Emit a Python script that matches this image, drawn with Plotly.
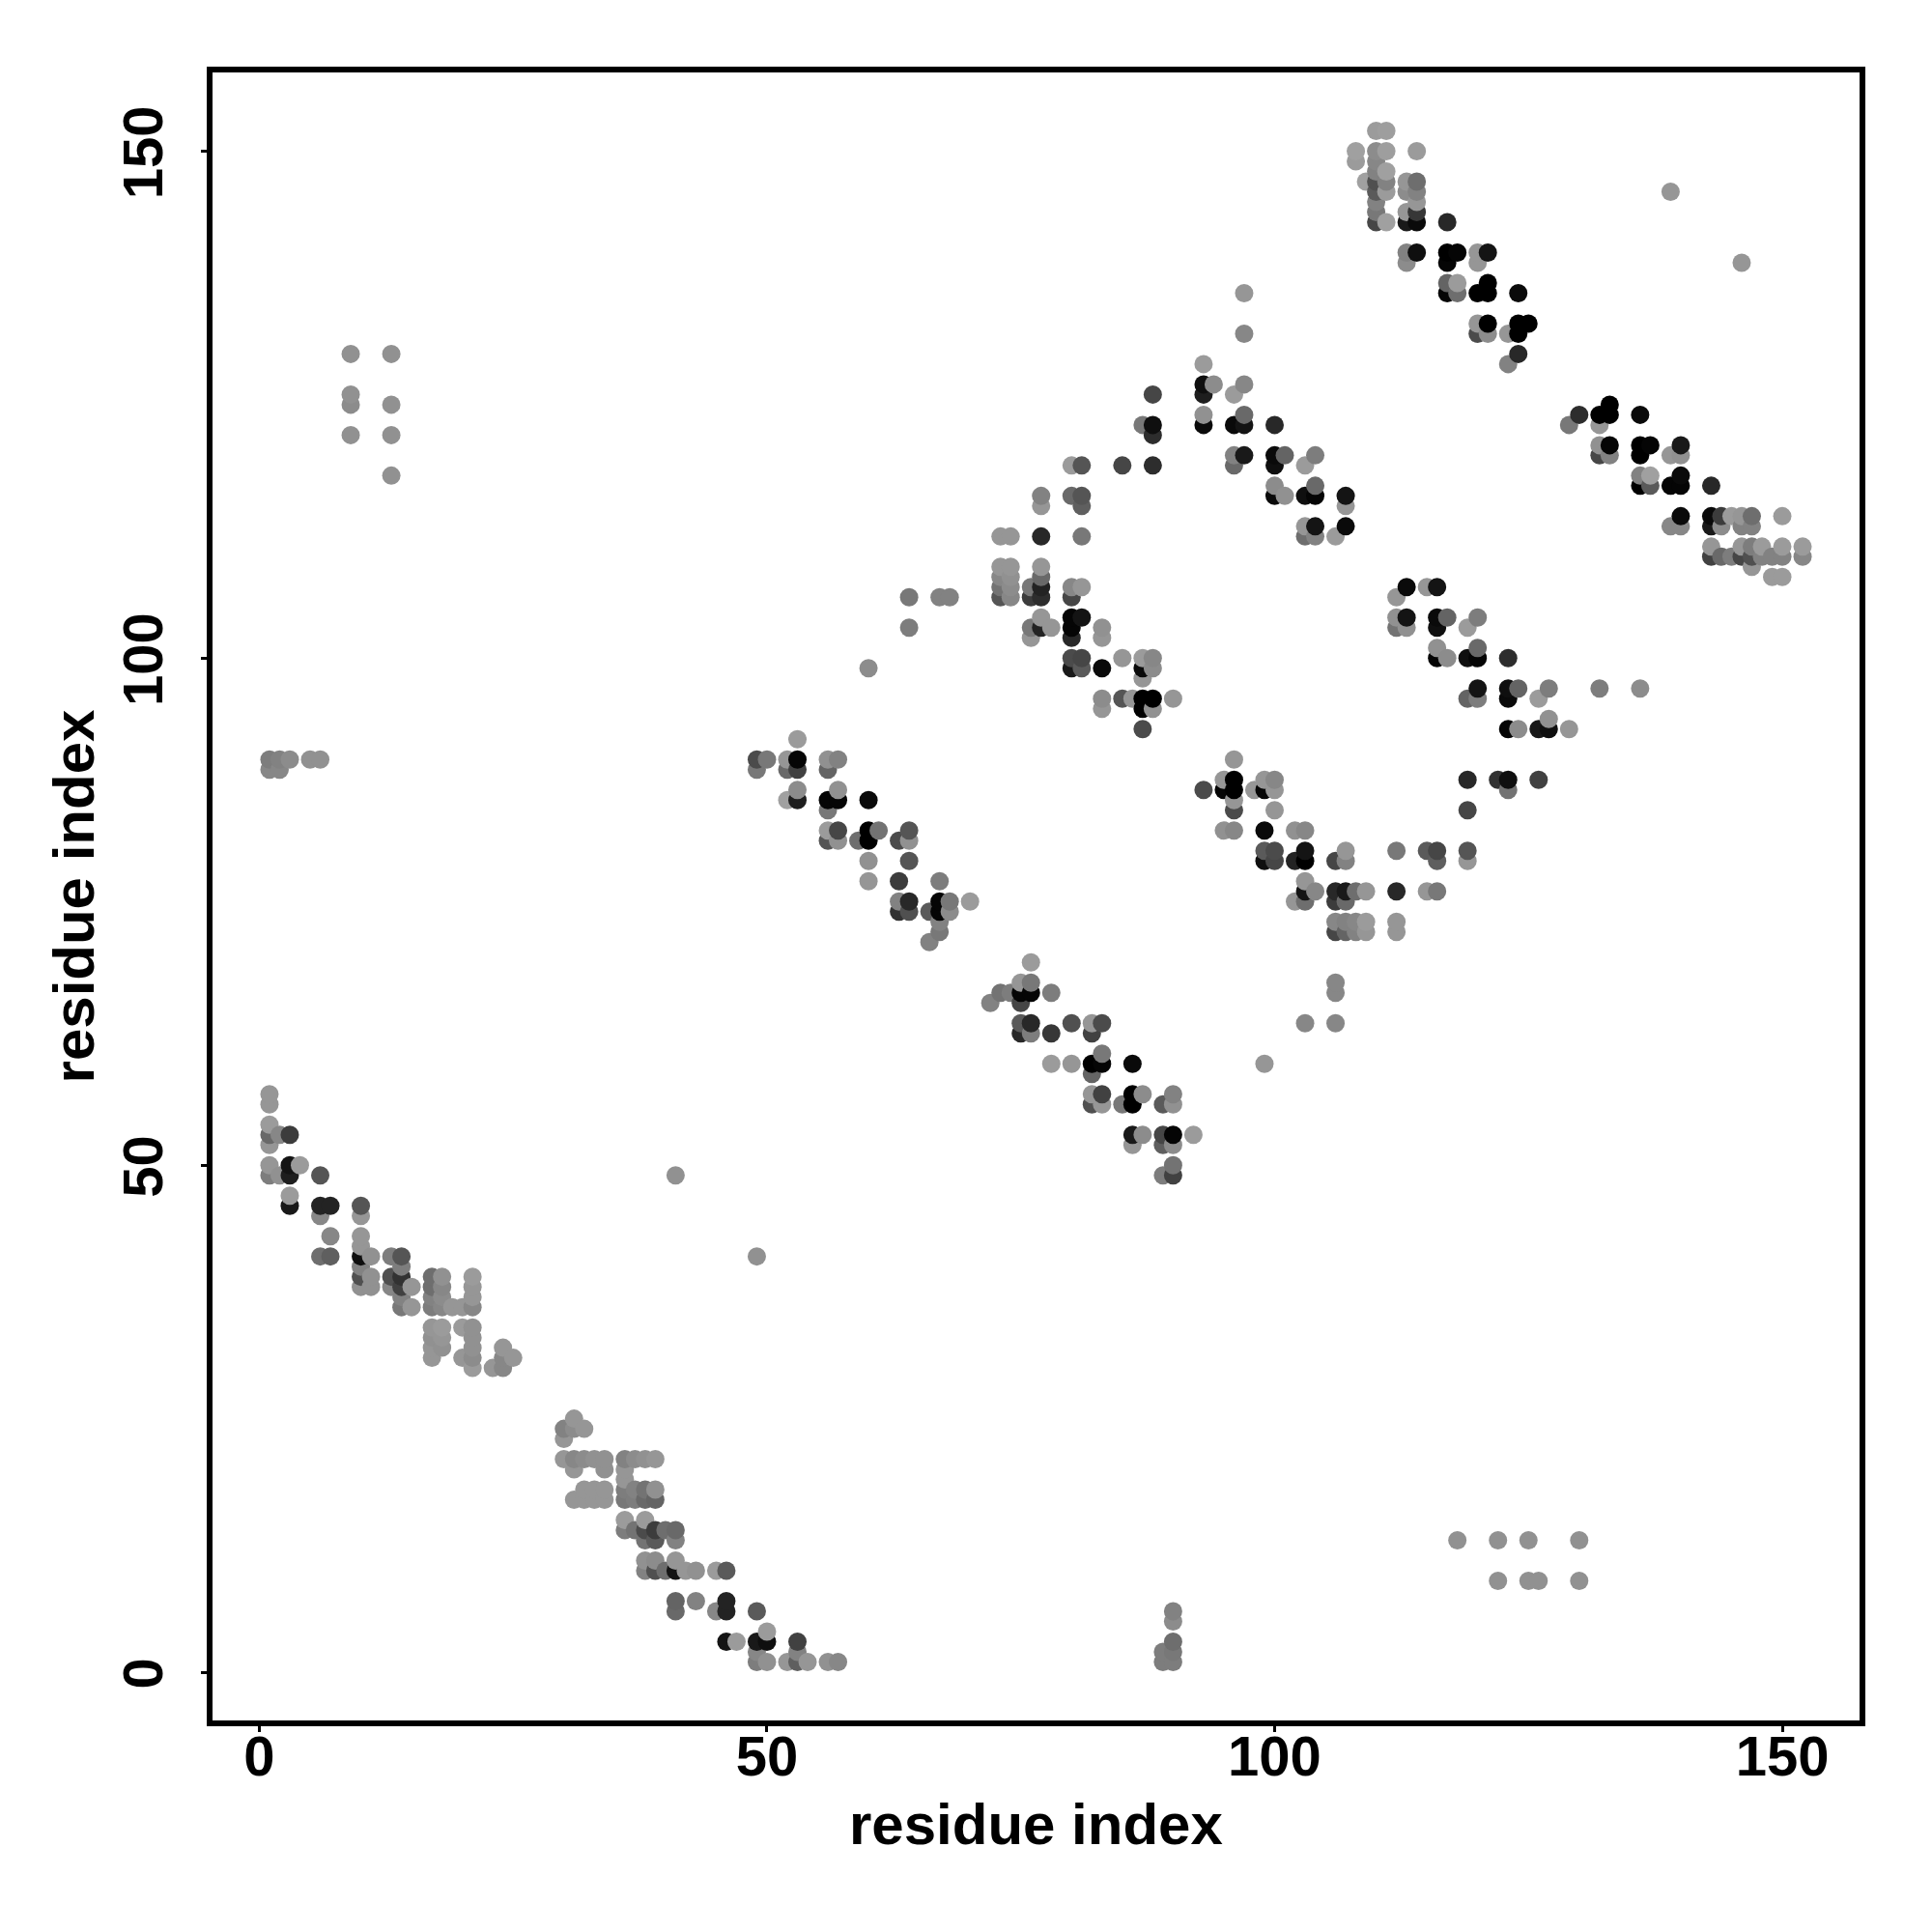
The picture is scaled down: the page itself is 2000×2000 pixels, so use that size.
import plotly.graph_objects as go

# (residue i, residue j, grey level 0-255)
contacts_a = [(1,57,150),(1,56,150),(1,54,155),(1,53,105),(1,52,150),(2,53,135),(3,53,60),
 (1,50,150),(1,49,125),(2,49,145),(3,50,20),(3,49,30),(4,50,155),(6,49,85),(3,47,155),(3,46,25),
 (6,46,35),(6,45,135),(7,46,35),(10,46,85),(10,45,150),(7,43,135),(6,41,110),(7,41,95),
 (10,43,150),(10,42,150),(10,41,15),(10,40,130),(10,39,80),(10,38,145),(11,41,145),(11,39,145),(11,38,145),
 (13,41,125),(14,41,85),(14,40,125),(13,39,80),(13,38,135),(14,39,50),(14,38,65),(14,37,130),(14,36,120),(15,38,150),(15,36,150),
 (17,39,110),(17,38,110),(17,37,130),(17,36,125),(18,39,145),(18,38,135),(18,37,140),(18,36,135),(19,36,150),(20,36,150),
 (21,39,155),(21,38,150),(21,37,150),(21,36,135),
 (17,34,150),(18,34,155),(17,33,145),(18,33,150),(17,32,150),(18,32,145),(17,31,150),
 (20,34,155),(21,34,145),(21,33,145),(21,32,145),(21,31,140),(20,31,150),(21,30,155),
 (23,30,150),(24,32,150),(24,31,135),(24,30,135),(25,31,150)]

contacts_b = [(30,24,130),(30,23,150),(31,25,150),(31,24,140),(32,24,150),
 (30,21,150),(31,21,135),(32,21,140),(33,21,145),(34,21,145),(31,20,150),(34,20,145),
 (32,18,150),(33,18,150),(34,18,150),(31,17,150),(32,17,150),(33,17,150),(34,17,150),
 (36,21,130),(36,20,150),(36,19,150),(36,18,125),(36,17,120),(37,21,140),(37,18,130),(37,17,125),
 (38,21,145),(38,18,115),(38,17,105),(39,21,150),(39,18,145),(39,17,100),
 (36,15,155),(36,14,125),(37,14,115),(38,15,155),(38,14,75),(38,13,115),(39,14,60),(39,13,90),(40,14,110),(41,14,105),(41,13,130),
 (38,11,145),(38,10,130),(39,11,140),(39,10,80),(40,10,110),(41,11,150),(41,10,20),(42,10,150),(43,10,145),
 (45,10,155),(46,10,90),(41,7,100),(41,6,105),(43,7,130),(45,6,135),(46,7,35),(46,6,35),(49,6,90),
 (46,3,20),(47,3,155),(49,3,25),(50,4,155),(50,3,15),(49,2,135),(49,1,125),(50,1,145),
 (53,3,65),(53,2,130),(53,1,95),(52,1,150),(54,1,150),(56,1,145),(57,1,135)]

contacts_c = [(53,92,155),(49,90,75),(49,89,120),(50,90,120),(52,90,150),(52,89,105),(53,90,5),(53,89,65),
 (56,90,145),(56,89,100),(57,90,130),(52,86,160),(53,87,140),(53,86,30),
 (56,86,5),(56,85,120),(57,87,145),(57,86,5),(60,86,10),
 (56,83,155),(56,82,85),(57,83,70),(57,82,145),(59,82,110),(60,83,0),(60,82,0),(61,83,115),
 (63,82,75),(64,83,85),(64,82,145),(60,80,145),(60,78,150),(64,80,85),(63,78,60),(67,78,125),
 (63,76,130),(63,75,50),(64,76,40),(64,75,80),(66,75,90),(67,76,5),(67,75,5),(68,76,120),(68,75,140),
 (67,74,130),(67,73,120),(66,72,130),(70,76,155)]

contacts_d = [(76,70,155),(72,66,130),(73,67,115),(74,67,125),(75,68,150),(75,67,5),(75,66,70),(76,68,120),(76,67,5),(78,67,125),
 (75,64,90),(75,63,40),(76,64,40),(76,63,125),(78,63,55),(80,64,80),(82,64,150),(82,63,65),(83,64,75),
 (78,60,155),(80,60,150),(82,60,0),(82,59,100),(83,61,120),(83,60,5),(86,60,10),
 (82,57,150),(82,56,80),(83,57,65),(83,56,150),(85,56,120),(86,57,0),(86,56,0),(87,57,140),
 (89,56,90),(90,57,130),(90,56,145),(86,53,25),(86,52,150),(87,53,140),(89,53,70),(89,52,95),(90,53,5),(90,52,140),(92,53,155),
 (89,49,125),(90,50,115),(90,49,65)]

contacts_e = [(93,87,75),(95,88,150),(95,87,5),(96,90,150),(96,88,0),(96,87,0),(96,86,150),(96,85,75),
 (98,87,150),(99,88,150),(99,87,5),(100,88,135),(100,87,150),(100,85,150),
 (95,83,145),(96,83,135),(99,83,10),(102,83,145),(103,83,135),
 (99,81,90),(100,81,75),(99,80,15),(100,80,70),(102,80,35),(103,81,20),(103,80,0),
 (106,80,70),(107,81,150),(107,80,130),(103,78,150),(102,76,150),(103,77,20),(103,76,110),(104,77,135),
 (106,77,40),(106,76,60),(107,77,25),(107,76,105),(108,77,110),(109,77,150),
 (112,77,40),(115,77,150),(116,77,120),
 (106,74,135),(107,74,130),(108,74,135),(109,74,155),(106,73,70),(107,73,100),(108,73,130),(109,73,150),(112,74,150),(112,73,150),
 (112,81,120),(115,81,90),(116,81,70),(116,80,95),(119,81,85),(119,80,150),
 (119,88,40),(119,85,70),(122,88,50),(123,88,15),(123,87,115),(126,88,65)]

contacts_f = [(112,106,150),(113,107,10),(115,107,150),(116,107,20),
 (112,104,145),(112,103,115),(113,104,20),(113,103,145),(116,104,10),(116,103,15),(117,104,100),
 (119,103,155),(120,104,125),(116,101,145),(116,100,5),(117,100,140),
 (119,100,15),(120,101,105),(120,100,5),(123,100,45),
 (119,96,100),(120,97,20),(120,96,125),(123,97,15),(123,96,10),(124,97,100),
 (126,96,155),(127,97,125),(132,97,125),(136,97,140),
 (123,93,5),(124,93,140),(126,93,25),(127,94,145),(127,93,15),(129,93,150)]

contacts_g = [(60,99,140),(64,106,120),(64,103,125),(67,106,130),(68,106,130),
 (73,112,150),(74,112,150),(77,112,40),(81,112,120),
 (73,109,150),(74,109,150),(77,109,150),(73,108,135),(74,108,145),(73,107,115),(74,107,140),(73,106,85),(74,106,135),
 (77,108,105),(76,107,120),(77,107,35),(76,106,60),(77,106,45),
 (80,107,135),(80,106,70),(81,107,150),(77,104,150),(76,103,120),(76,102,150),(77,103,35),(78,103,150),
 (80,104,5),(81,104,20),(80,103,5),(80,102,40),(83,103,145),(83,102,150),
 (80,100,75),(81,100,70),(80,99,25),(81,99,90),(83,99,10),(85,100,150),(87,100,155),(88,100,135),(87,99,10),(88,99,140),(87,98,150),
 (83,96,140),(83,95,150),(85,96,85),(86,96,150),(87,96,0),(88,96,0),(87,95,0),(88,95,145),(90,96,150),(87,93,75),
 (77,116,130),(77,115,150),(80,116,105),(81,116,85),(81,115,95),
 (80,119,155),(81,119,85),(85,119,70),(88,119,45),(87,123,120),(88,123,15),(88,122,45),(88,126,70)]

contacts_h = [(97,136,150),(97,132,135),(93,129,155),(93,127,15),(93,126,30),(94,127,140),(96,126,155),(97,127,135),
 (93,124,145),(93,123,10),(96,123,10),(97,124,105),(97,123,20),(100,123,40),
 (96,120,130),(96,119,105),(97,120,25),(100,120,10),(100,119,15),(101,120,100),(103,119,155),(104,120,125),
 (100,117,140),(100,116,10),(101,116,145),(103,116,15),(104,117,105),(104,116,5),(107,116,20),(107,115,150),
 (103,113,150),(103,112,110),(104,113,20),(104,112,130),(106,112,155),(107,113,10)]

contacts_i = [(110,152,155),(111,152,158),(108,150,160),(108,149,155),(110,150,140),(111,150,158),(114,150,155),
 (110,149,135),(110,148,130),(111,148,160),(109,147,160),(110,147,80),(110,146,90),(110,145,130),(110,144,120),(110,143,70),
 (111,147,130),(111,146,155),(111,143,160),(113,147,150),(113,146,140),(113,144,150),(113,143,25),
 (114,147,110),(114,146,130),(114,145,150),(114,144,55),(114,143,10),(117,143,40),
 (113,140,130),(113,139,140),(114,140,15),(117,140,0),(117,139,5),(118,140,5),(120,140,150),(120,139,150),(121,140,20),
 (117,137,100),(117,136,5),(118,137,155),(118,136,110),(120,136,0),(121,137,0),(121,136,0),(124,136,10),
 (120,133,150),(120,132,75),(121,133,0),(121,132,140),(123,132,150),(124,133,0),(124,132,0),(125,133,0),(124,130,40),(123,129,130)]

contacts_j = [(129,123,120),(130,124,45),(132,124,0),(132,123,150),(133,125,0),(133,124,0),(136,124,10),
 (132,121,145),(132,120,70),(133,121,5),(133,120,130),(136,121,0),(136,120,0),(137,121,5),(139,120,150),(140,121,25),(140,120,145),
 (136,118,130),(136,117,0),(137,118,160),(137,117,90),(139,117,5),(140,118,10),(140,117,5),(143,117,40),
 (139,113,135),(140,114,10),(140,113,135),(143,114,10),(143,113,25),(144,114,60),(144,113,140),(145,114,155),
 (146,114,150),(146,113,130),(147,114,110),(147,113,130),(150,114,155),
 (143,111,150),(143,110,65),(144,110,105),(145,110,125),(146,111,150),(146,110,70),(147,111,125),(147,110,80),(147,109,150),
 (148,111,155),(148,110,130),(149,110,130),(150,111,155),(150,110,130),(149,108,155),(150,108,155),(152,111,155),(152,110,135)]

contacts_isolated = [(139,146,150),(146,139,150),(9,130,145),(13,130,145),(9,126,145),(9,125,140),(13,125,145),(9,122,145),(13,122,145),(13,118,145),
 (1,90,125),(1,89,135),(2,90,130),(2,89,135),(3,90,140),(5,90,145),(6,90,145),(41,49,145),(49,41,145),
 (99,60,150),(103,64,135),(106,64,135),(106,67,135),(106,68,135),
 (118,13,145),(122,13,145),(125,13,145),(130,13,145),(122,9,145),(125,9,145),(126,9,145),(130,9,145),
 (90,6,130),(90,5,140),(90,3,110),(89,2,125),(90,2,120),(89,1,125),(90,1,125)]

tick_vals = [0, 50, 100, 150]
axis_label = "residue index"

points = sorted(contacts_a + contacts_b + contacts_c + contacts_d + contacts_e + contacts_f +
                contacts_g + contacts_h + contacts_i + contacts_j + contacts_isolated,
                key=lambda p: (p[0], p[1]))

fig = go.Figure(go.Scatter(
    x=[p[0] for p in points], y=[p[1] for p in points], mode="markers",
    marker=dict(size=19, color=[f"rgb({p[2]},{p[2]},{p[2]})" for p in points], line=dict(width=0)),
    showlegend=False, hoverinfo="skip"))

font = "Liberation Sans, Arial, sans-serif"
axis = dict(tickvals=tick_vals, ticks="outside", ticklen=6, tickwidth=3, tickcolor="black",
            showline=True, linewidth=6, linecolor="black", mirror=True, showgrid=False, zeroline=False,
            tickfont=dict(family=font, size=58, color="black", weight="bold"))
fig.update_layout(
    width=2000, height=2000, paper_bgcolor="white", plot_bgcolor="white",
    margin=dict(l=212, r=83, t=67, b=227, autoexpand=False),
    xaxis=dict(range=[-4.61, 157.61], ticklabelstandoff=-25, **axis),
    yaxis=dict(range=[-4.76, 157.76], tickangle=-90, ticklabelstandoff=17, ticklabelshift=10, **axis),
    annotations=[
        dict(text=f"<b>{axis_label}</b>", xref="paper", yref="paper", x=0.5, y=-0.0633, xanchor="center", yanchor="middle",
             showarrow=False, font=dict(family=font, size=60, color="black")),
        dict(text=f"<b>{axis_label}</b>", xref="paper", yref="paper", x=-0.0842, y=0.5, xanchor="center", yanchor="middle",
             textangle=-90, showarrow=False, font=dict(family=font, size=60, color="black")),
    ])
fig.write_html("out.html")
